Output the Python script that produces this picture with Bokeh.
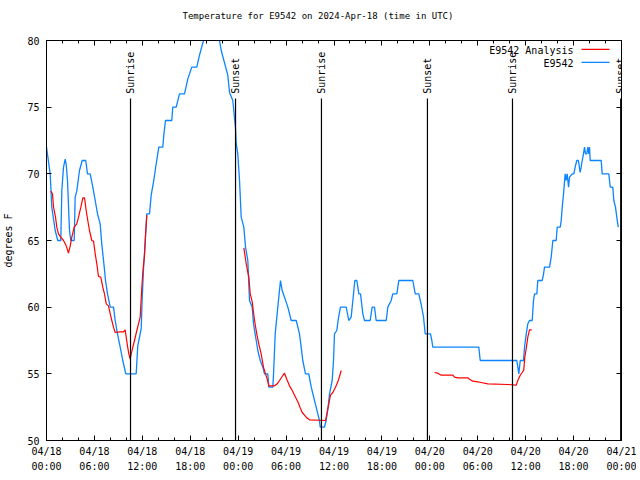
import math
from bokeh.plotting import figure
from bokeh.models import (LinearAxis, FixedTicker, Range1d, Label, BoxAnnotation,
                          CustomLabelingPolicy, Title)
from bokeh.embed import file_html
from bokeh.resources import INLINE

FONT = "DejaVu Sans Mono"

# hours since 2024-04-18 00:00 UTC
obs_hours = [0.00, 0.46, 0.66, 1.09, 1.41, 1.79, 1.92, 2.13, 2.34, 2.47, 2.63, 2.88, 3.04, 3.47,
             3.59, 3.79, 4.13, 4.47, 4.92, 5.13, 5.47, 5.80, 6.10, 6.39, 6.72, 6.92, 7.23, 7.39,
             7.64, 7.98, 8.39, 8.60, 8.89, 9.23, 9.55, 9.93, 11.11, 11.23, 11.43, 11.86, 11.98,
             12.15, 12.36, 12.56, 12.90, 13.11, 13.40, 13.65, 14.06, 14.56, 14.69, 14.90, 15.69,
             15.81, 16.24, 16.65, 17.28, 17.69, 18.19, 18.82, 19.16, 19.66, 20.66, 21.66, 21.88,
             22.70, 22.92, 23.33, 23.67, 23.75, 23.95, 24.17, 24.38, 24.71, 24.92, 25.21, 25.42,
             25.76, 25.92, 26.26, 26.46, 26.76, 27.09, 27.30, 27.71, 27.84, 28.34, 28.43, 28.64,
             28.84, 29.09, 29.30, 29.51, 29.80, 30.22, 30.64, 31.27, 31.68, 31.89, 32.09, 32.43,
             32.84, 33.15, 33.56, 33.77, 33.97, 34.18, 34.27, 34.81, 35.02, 35.22, 35.44, 35.77,
             35.94, 36.06, 36.35, 36.56, 36.81, 37.53, 37.85, 38.15, 38.36, 38.61, 38.86, 39.11,
             39.32, 39.61, 39.82, 40.53, 40.78, 41.07, 41.28, 42.54, 42.74, 43.16, 43.36, 43.87,
             44.11, 45.87, 46.17, 46.62, 46.92, 47.21, 47.42, 48.08, 48.25, 48.37, 54.13, 54.31,
             58.89, 59.02, 59.14, 59.32, 59.73, 59.86, 60.07, 60.27, 60.48, 60.82, 60.98, 61.11,
             61.40, 61.52, 62.07, 62.24, 62.36, 62.99, 63.20, 63.40, 63.82, 63.95, 64.33, 64.45,
             64.58, 64.74, 64.95, 65.07, 65.20, 65.37, 65.49, 65.83, 66.03, 66.20, 66.40, 66.61,
             66.82, 66.95, 67.08, 67.24, 67.37, 67.49, 67.66, 67.78, 67.91, 68.00, 68.08, 69.46,
             69.58, 70.41, 70.59, 70.91, 71.04, 71.25, 71.41, 71.59]
obs_temp = [72.0, 70.0, 67.5, 65.75, 65.0, 65.0, 68.75, 70.5, 71.1, 70.7, 69.5, 65.75, 65.0, 65.0,
            68.25, 68.7, 70.25, 71.0, 71.0, 70.0, 70.0, 69.0, 68.0, 67.0, 66.25, 64.75, 63.0, 62.0,
            61.0, 60.0, 60.0, 59.0, 58.0, 57.0, 56.0, 55.0, 55.0, 55.0, 57.1, 58.4, 60.6,
            62.9, 64.9, 67.0, 67.0, 68.4, 69.4, 70.4, 72.0, 72.0, 72.9, 74.0, 74.0,
            75.0, 75.0, 76.0, 76.0, 77.1, 78.0, 78.0, 78.9, 80.0, 81.5, 80.0, 79.25,
            77.4, 76.1, 75.5, 73.4, 72.3, 71.5, 69.5, 66.75, 66.0, 64.5, 63.5, 60.5,
            60.0, 58.75, 57.5, 56.75, 56.0, 55.5, 55.0, 55.0, 54.0, 54.0, 55.0, 58.0,
            59.25, 60.75, 62.0, 61.25, 60.75, 60.0, 59.0, 59.0, 58.0, 57.0, 56.0, 55.0,
            55.0, 54.0, 53.0, 52.5, 52.0, 51.5, 51.0, 51.0, 51.5, 52.3, 53.5, 54.5,
            56.0, 58.0, 58.25, 59.2, 60.0, 60.0, 59.0, 59.25, 60.5, 62.0, 62.0, 61.0,
            61.0, 59.5, 59.0, 59.0, 60.0, 60.0, 59.0, 59.0, 60.0, 60.5, 61.0, 61.0,
            62.0, 62.0, 61.0, 61.0, 60.2, 59.25, 58.0, 58.0, 57.5, 57.0, 57.0, 56.0,
            56.0, 55.5, 55.0, 56.0, 56.0, 57.0, 58.0, 58.75, 59.0, 59.0, 60.5, 61.0,
            61.0, 62.0, 62.0, 62.5, 63.0, 63.0, 63.75, 65.0, 65.0, 66.0, 66.0, 66.5,
            67.5, 68.5, 70.0, 69.5, 70.0, 69.0, 69.75, 70.0, 70.0, 70.5, 71.0, 71.0,
            70.1, 70.5, 71.0, 71.5, 72.0, 71.5, 71.5, 72.0, 71.5, 72.0, 71.0, 71.0,
            70.0, 70.0, 69.0, 69.0, 68.0, 67.5, 66.75, 66.0]

nan = float("nan")
ana_hours = [0.54, 0.75, 0.88, 1.13, 1.29, 1.50, 1.79, 2.13, 2.47, 2.75, 2.97, 3.17, 3.47, 3.79,
             4.01, 4.30, 4.55, 4.76, 4.97, 5.17, 5.38, 5.67, 5.89, 6.10, 6.30, 6.51, 6.80, 7.05,
             7.26, 7.48, 7.76, 7.98, 8.18, 8.39, 8.60, 9.14, 9.64, 9.85, 9.98, 10.14, 10.31, 10.48,
             10.61, 10.81, 11.02, 11.31, 11.52, 11.73, 11.93, 12.06, 12.27, 12.40, 12.56, nan,
             24.71, 25.01, 25.33, 25.51, 25.76, 26.05, 26.33, 26.58, 26.88, 27.17, 27.42, 27.64,
             27.84, 28.55, 28.89, 29.18, 29.51, 29.80, 30.09, 30.43, 30.77, 31.18, 31.47, 31.77,
             32.02, 32.31, 32.59, 32.93, 34.94, 35.10, 35.35, 35.56, 35.85, 36.19, 36.48, 36.69,
             36.90, nan,
             48.59, 49.00, 49.42, 50.88, 51.09, 51.50, 52.75, 52.97, 53.38, 54.01, 54.43, 55.26,
             57.76, 58.82, 59.02, 59.32, 59.57, 59.77, 59.89, 60.07, 60.27, 60.48, 60.77]
ana_temp = [68.7, 68.5, 67.5, 66.75, 66.0, 65.5, 65.25, 65.0, 64.6, 64.05, 64.6, 65.25, 66.0, 66.25,
            66.75, 67.5, 68.2, 68.2, 67.25, 66.5, 65.75, 65.0, 64.95, 64.0, 63.25, 62.3, 62.25, 61.5,
            61.0, 60.25, 60.1, 59.5, 59.0, 58.5, 58.1, 58.15, 58.15, 58.3, 57.75, 57.1, 56.5, 56.1,
            56.5, 57.0, 57.5, 58.25, 58.75, 59.25, 61.4, 62.6, 63.9, 65.4, 66.9, nan,
            64.45, 63.25, 62.25, 61.0, 60.4, 59.0, 58.0, 57.25, 56.5, 55.5, 55.0, 54.6,
            54.1, 54.1, 54.25, 54.5, 54.8, 55.05, 54.6, 54.1, 53.75, 53.25, 52.9, 52.45,
            52.1, 51.9, 51.7, 51.55, 51.5, 52.0, 52.75, 53.4, 53.6, 54.0, 54.4, 54.8,
            55.25, nan,
            55.1, 55.05, 54.9, 54.9, 54.75, 54.7, 54.7, 54.6, 54.45, 54.4, 54.35, 54.25,
            54.2, 54.15, 54.5, 54.9, 55.1, 55.3, 56.25, 56.9, 57.75, 58.3, 58.3]

event_hours = [10.52, 23.67, 34.43, 47.70, 58.35, 71.90]
event_names = ["Sunrise", "Sunset", "Sunrise", "Sunset", "Sunrise", "Sunset"]

tick_hours = [0, 6, 12, 18, 24, 30, 36, 42, 48, 54, 60, 66, 72]
tick_labels = ["04/18\n00:00", "04/18\n06:00", "04/18\n12:00", "04/18\n18:00",
               "04/19\n00:00", "04/19\n06:00", "04/19\n12:00", "04/19\n18:00",
               "04/20\n00:00", "04/20\n06:00", "04/20\n12:00", "04/20\n18:00",
               "04/21\n00:00"]
minor_hours = list(range(0, 73, 2))
y_ticks = [50, 55, 60, 65, 70, 75, 80]

TITLE = "Temperature for E9542 on 2024-Apr-18 (time in UTC)"
Y_MIN, Y_MAX = 50, 80
EVENT_TOP = 75.65
EVENT_LABEL_Y = 76.0
BLUE = "#0a84ff"
RED = "#ff0000"
FW, FH = 575, 400

p = figure(frame_width=FW, frame_height=FH, output_backend="svg", toolbar_location=None,
           x_range=Range1d(0, 72), y_range=Range1d(Y_MIN, Y_MAX),
           min_border_left=39, min_border_right=10, min_border_top=32, min_border_bottom=30,
           title=None)

p.grid.visible = False
p.outline_line_color = "black"
p.outline_line_alpha = 1
p.outline_line_width = 1
p.background_fill_color = "white"
p.border_fill_color = "white"

p.xaxis.ticker = FixedTicker(ticks=tick_hours, minor_ticks=minor_hours)
p.xaxis.major_label_overrides = dict(zip(tick_hours, tick_labels))
p.yaxis.ticker = FixedTicker(ticks=y_ticks, minor_ticks=[])
p.yaxis.axis_label = "degrees F"

for ax in [p.xaxis[0], p.yaxis[0]]:
    ax.axis_line_color = "black"
    ax.major_tick_in = 5
    ax.major_tick_out = 0
    ax.minor_tick_in = 3
    ax.minor_tick_out = 0
    ax.major_tick_line_color = "black"
    ax.minor_tick_line_color = "black"
    ax.major_label_text_font = FONT
    ax.major_label_text_font_size = "10px"
    ax.major_label_text_color = "black"
    ax.axis_label_text_font = FONT
    ax.axis_label_text_font_size = "10px"
    ax.axis_label_text_font_style = "normal"
    ax.axis_label_text_color = "black"

p.xaxis.major_label_standoff = 5
p.xaxis.major_label_text_line_height = 1.45
p.yaxis.major_label_standoff = 7
p.yaxis.axis_label_standoff = 10

right_ax = LinearAxis(ticker=FixedTicker(ticks=y_ticks, minor_ticks=[]),
                      major_tick_in=5, major_tick_out=0,
                      major_label_policy=CustomLabelingPolicy(code="return []"),
                      major_label_standoff=0, axis_line_color="black")
top_ax = LinearAxis(ticker=FixedTicker(ticks=tick_hours, minor_ticks=minor_hours),
                    major_tick_in=5, major_tick_out=0, minor_tick_in=3, minor_tick_out=0,
                    major_label_policy=CustomLabelingPolicy(code="return []"),
                    major_label_standoff=0, axis_line_color="black")
title = Title(text=TITLE, align="left", offset=136, text_font=FONT, text_font_size="9px",
              text_font_style="normal", text_color="black", standoff=17)
p.add_layout(right_ax, "right")
p.add_layout(top_ax, "above")
p.add_layout(title, "above")

p.line(obs_hours, obs_temp, line_color=BLUE, line_width=1.3)
p.line(ana_hours, ana_temp, line_color=RED, line_width=1.2)

p.segment(x0=event_hours, y0=[Y_MIN] * len(event_hours), x1=event_hours,
          y1=[EVENT_TOP] * len(event_hours), line_color="black", line_width=1.2)
for h, name in zip(event_hours, event_names):
    p.add_layout(Label(x=h, y=EVENT_LABEL_Y, text=name, angle=math.pi / 2,
                       text_align="left", text_baseline="middle", text_font=FONT,
                       text_font_size="10px", text_color="black"))

# legend (text on the left, sample line on the right), in frame screen units
legend_items = [("E9542 Analysis", RED), ("E9542", BLUE)]
for i, (lab, col) in enumerate(legend_items):
    yc = 390 - 13 * i
    p.add_layout(Label(x=527, y=yc, x_units="screen", y_units="screen", text=lab,
                       text_align="right", text_baseline="middle", text_font=FONT,
                       text_font_size="10px", text_color="black"))
    p.add_layout(BoxAnnotation(left=535, right=563, bottom=yc + 0.5, top=yc + 1.7,
                               left_units="screen", right_units="screen",
                               bottom_units="screen", top_units="screen",
                               fill_color=col, fill_alpha=1, line_alpha=0))

open("out.html", "w").write(file_html(p, INLINE))
